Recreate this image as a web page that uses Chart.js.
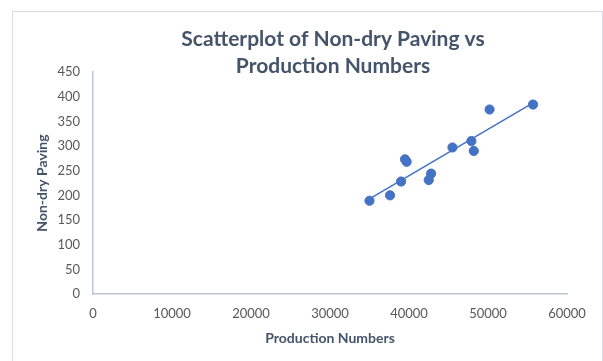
<!DOCTYPE html>
<html>
<head>
<meta charset="utf-8">
<script src="https://cdn.jsdelivr.net/npm/chart.js@4/dist/chart.umd.min.js"></script>
<style>
  html, body { margin: 0; padding: 0; background: #ffffff; }
  #wrap { width: 603px; height: 361px; }
</style>
</head>
<body>
<div id="wrap"><canvas id="c" width="603" height="361"></canvas></div>
<script>
// Production numbers (x) and non-dry paving (y) per observation
const productionNumbers = [35000, 37600, 39000, 39500, 39700, 42500, 42800, 45500, 47900, 48200, 50200, 55700];
const nonDryPaving      = [189,   200,   228,   273,   268,   231,   244,   297,   310,   290,   374,   384];

// Axis tick values
const xTicks = [0, 10000, 20000, 30000, 40000, 50000, 60000];
const yTicks = [0, 50, 100, 150, 200, 250, 300, 350, 400, 450];

const titleLines = ['Scatterplot of Non-dry Paving vs', 'Production Numbers'];
const xTitle = 'Production Numbers';
const yTitle = 'Non-dry Paving';

// Least-squares linear trendline over the observed range
function linearFit(xs, ys) {
  const n = xs.length;
  const mx = xs.reduce((a, b) => a + b, 0) / n;
  const my = ys.reduce((a, b) => a + b, 0) / n;
  let sxy = 0, sxx = 0;
  for (let i = 0; i < n; i++) {
    sxy += (xs[i] - mx) * (ys[i] - my);
    sxx += (xs[i] - mx) * (xs[i] - mx);
  }
  const slope = sxy / sxx;
  return { slope, intercept: my - slope * mx };
}
const fit = linearFit(productionNumbers, nonDryPaving);
const xLo = Math.min(...productionNumbers), xHi = Math.max(...productionNumbers);
const trendPoints = [xLo, xHi].map(x => ({ x, y: fit.intercept + fit.slope * x }));

const points = productionNumbers.map((x, i) => ({ x, y: nonDryPaving[i] }));

const FONT = 'Lato, "Open Sans", sans-serif';
const BLUE = '#4472c4';
const AXIS = '#bcc6d4';

// Outer frame and two-line title drawn over the layout
const framePlugin = {
  id: 'frame',
  beforeDraw(chart) {
    const ctx = chart.ctx;
    ctx.save();
    ctx.fillStyle = '#ffffff';
    ctx.fillRect(0, 0, chart.width, chart.height);
    ctx.strokeStyle = '#d9dde3';
    ctx.lineWidth = 1;
    ctx.strokeRect(12.5, 11.5, 590, 400);
    ctx.restore();
  },
  afterDraw(chart) {
    const ctx = chart.ctx;
    ctx.save();
    ctx.fillStyle = '#44546a';
    ctx.font = 'bold 21px ' + FONT;
    ctx.textAlign = 'center';
    ctx.textBaseline = 'middle';
    ctx.fillText(titleLines[0], 333, 39);
    ctx.fillText(titleLines[1], 333, 66);
    ctx.restore();
  }
};

new Chart(document.getElementById('c'), {
  data: {
    datasets: [
      {
        type: 'scatter',
        label: 'Non-dry Paving',
        data: points,
        backgroundColor: BLUE,
        borderColor: BLUE,
        pointRadius: 4.6,
        pointHoverRadius: 4.6,
        order: 1
      },
      {
        type: 'line',
        label: 'Linear trend',
        data: trendPoints,
        borderColor: BLUE,
        borderWidth: 1.5,
        pointRadius: 0,
        fill: false,
        order: 2
      }
    ]
  },
  options: {
    responsive: false,
    animation: false,
    events: [],
    layout: { padding: { left: 34, right: 36, top: 72, bottom: 14 } },
    plugins: {
      legend: { display: false },
      tooltip: { enabled: false },
      title: { display: false }
    },
    scales: {
      x: {
        type: 'linear',
        min: xTicks[0],
        max: xTicks[xTicks.length - 1],
        afterBuildTicks: s => { s.ticks = xTicks.map(v => ({ value: v })); },
        afterFit: s => { s.height = 53; },
        grid: { display: false, drawTicks: false },
        border: { display: true, color: AXIS, width: 1.5 },
        ticks: {
          padding: 12,
          color: '#595959',
          font: { family: FONT, size: 13 },
          maxRotation: 0,
          callback: v => String(v)
        },
        title: {
          display: true,
          text: xTitle,
          color: '#44546a',
          font: { family: FONT, size: 14, weight: 'bold' },
          padding: 0
        }
      },
      y: {
        type: 'linear',
        min: yTicks[0],
        max: yTicks[yTicks.length - 1],
        afterBuildTicks: s => { s.ticks = yTicks.map(v => ({ value: v })); },
        afterFit: s => { s.width = 59; },
        grid: { display: false, drawTicks: false },
        border: { display: true, color: AXIS, width: 1.5 },
        ticks: {
          padding: 13,
          color: '#595959',
          font: { family: FONT, size: 13 },
          callback: v => String(v)
        },
        title: {
          display: true,
          text: yTitle,
          color: '#44546a',
          font: { family: FONT, size: 14, weight: 'bold' },
          padding: 0
        }
      }
    }
  },
  plugins: [framePlugin]
});
</script>
</body>
</html>
